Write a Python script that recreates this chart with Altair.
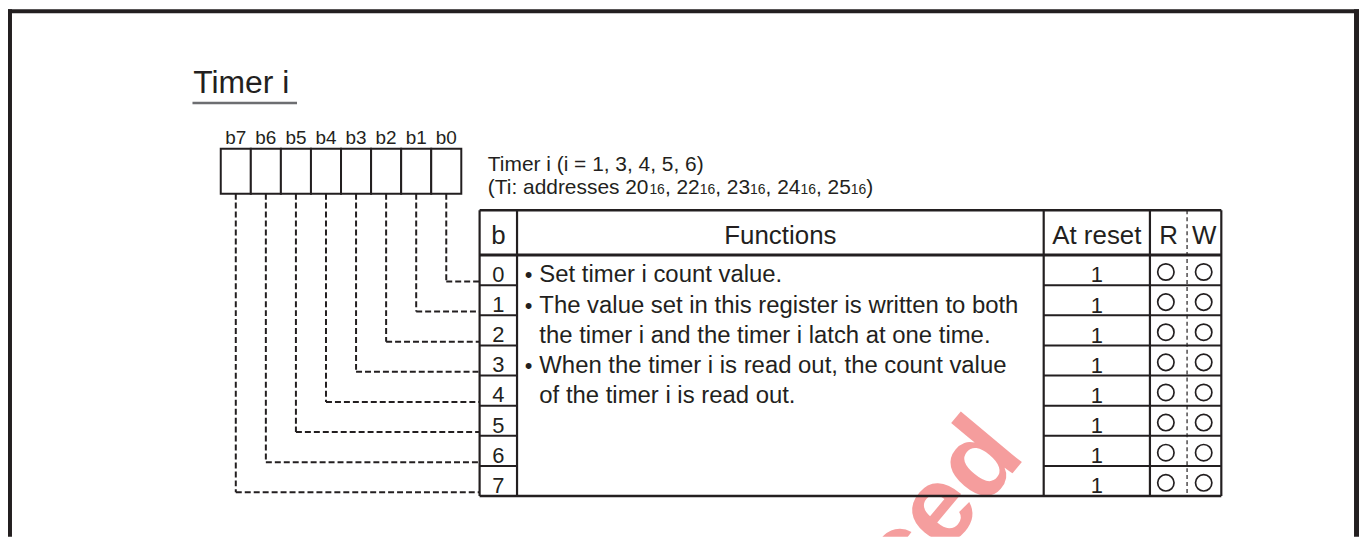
import altair as alt
import pandas as pd

# ---------------- chart content ----------------
TITLE = "Timer i"
BIT_LABELS = ["b7", "b6", "b5", "b4", "b3", "b2", "b1", "b0"]
CAPTION_1 = "Timer i (i = 1, 3, 4, 5, 6)"
CAPTION_2 = [("(Ti: addresses 20", "main"), ("16", "sub"), (", 22", "main"), ("16", "sub"),
             (", 23", "main"), ("16", "sub"), (", 24", "main"), ("16", "sub"),
             (", 25", "main"), ("16", "sub"), (")", "main")]
HEADERS = ["b", "Functions", "At reset", "R", "W"]
BITS = [0, 1, 2, 3, 4, 5, 6, 7]
AT_RESET = ["1", "1", "1", "1", "1", "1", "1", "1"]
READ_OK = [True, True, True, True, True, True, True, True]
WRITE_OK = [True, True, True, True, True, True, True, True]
FUNC_BULLETS = ["•", "•", "", "•", ""]
FUNC_LINES = ["Set timer i count value.",
              "The value set in this register is written to both",
              "the timer i and the timer i latch at one time.",
              "When the timer i is read out, the count value",
              "of the timer i is read out."]
WATERMARK = "ced"

# ---------------- layout (page pixels) ----------------
W, H = 1357, 530
X0, Y0 = 8, 8
INK = "#231f20"
FONT = "Liberation Sans"

reg_left, cell_w, reg_top, reg_bottom = 221.7, 30.2, 148.3, 193.3
tbl_top, head_bottom, row_h = 210.0, 255.0, 30.25
col_edges = [481.7, 519.3, 1048.3, 1155.0, 1226.7]
rw_split = 1192.3
tbl_bottom = head_bottom + 8 * row_h
r_x, w_x = 1171.0, 1209.0

AFM = {'(': 333, ')': 333, 'T': 611, 'i': 222, ':': 278, ' ': 278, 'a': 556, 'd': 556,
       'r': 333, 'e': 556, 's': 500, ',': 278}
for dgt in "0123456789":
    AFM[dgt] = 556


def text_w(s, size):
    return sum(AFM.get(c, 556) for c in s) * size / 1000.0


XSCALE = alt.Scale(domain=[X0, X0 + W], nice=False, zero=False)
YSCALE = alt.Scale(domain=[Y0, Y0 + H], nice=False, zero=False, reverse=True)


def xs(f):
    return alt.X(f, type="quantitative", scale=XSCALE, axis=None)


def ys(f):
    return alt.Y(f, type="quantitative", scale=YSCALE, axis=None)


def hrules(rows, **kw):
    df = pd.DataFrame(rows, columns=["x", "x2", "y"])
    return alt.Chart(df).mark_rule(color=INK, **kw).encode(x=xs("x"), x2=alt.X2("x2"), y=ys("y"))


def vrules(rows, **kw):
    df = pd.DataFrame(rows, columns=["x", "y", "y2"])
    return alt.Chart(df).mark_rule(color=INK, **kw).encode(x=xs("x"), y=ys("y"), y2=alt.Y2("y2"))


def texts(rows, **kw):
    df = pd.DataFrame(rows, columns=["x", "y", "t"])
    base = dict(font=FONT, color=INK, baseline="alphabetic")
    base.update(kw)
    return alt.Chart(df).mark_text(**base).encode(x=xs("x"), y=ys("y"), text="t:N")


layers = []

# watermark (behind everything)
wm = pd.DataFrame({"x": [970.0], "y": [530.0], "t": [WATERMARK]})
layers.append(alt.Chart(wm).mark_text(font=FONT, fontWeight="bold", fontSize=110, angle=310,
                                      align="center", baseline="alphabetic", color="#f06a6a",
                                      opacity=0.65, clip=True)
              .encode(x=xs("x"), y=ys("y"), text="t:N"))

# outer frame
layers.append(hrules([(X0, X0 + W, 10.0)], strokeWidth=4))
layers.append(vrules([(10.0, X0, Y0 + H)], strokeWidth=4))
layers.append(vrules([(1362.5, X0, Y0 + H)], strokeWidth=5))

# title + underline
layers.append(texts([(194.0, 91.7, TITLE)], fontSize=32, align="left"))
layers.append(alt.Chart(pd.DataFrame({"x": [193.3], "x2": [298.3], "y": [102.3]}))
              .mark_rule(color="#6d6e71", strokeWidth=2.5)
              .encode(x=xs("x"), x2=alt.X2("x2"), y=ys("y")))

# register cells and bit labels
cells = pd.DataFrame({
    "x": [reg_left + k * cell_w for k in range(8)],
    "x2": [reg_left + (k + 1) * cell_w for k in range(8)],
    "y": [reg_top] * 8, "y2": [reg_bottom] * 8})
layers.append(alt.Chart(cells).mark_rect(fill="white", stroke=INK, strokeWidth=2)
              .encode(x=xs("x"), x2=alt.X2("x2"), y=ys("y"), y2=alt.Y2("y2")))
layers.append(texts([(reg_left + (k + 0.5) * cell_w, 143.5, lab) for k, lab in enumerate(BIT_LABELS)],
                    fontSize=19, align="center"))

# caption
layers.append(texts([(490.0, 170.5, CAPTION_1)], fontSize=21, align="left"))
main_rows, sub_rows = [], []
cx = 490.0
for seg, kind in CAPTION_2:
    if kind == "main":
        main_rows.append((cx, 194.0, seg))
        cx += text_w(seg, 21)
    else:
        sub_rows.append((cx, 194.0, seg))
        cx += text_w(seg, 14)
layers.append(texts(main_rows, fontSize=21, align="left"))
layers.append(texts(sub_rows, fontSize=14, align="left"))


# dashed connectors
def cell_center(bit):
    return reg_left + (7 - bit + 0.5) * cell_w


def conn_y(bit):
    return head_bottom + bit * row_h + 26.5


layers.append(vrules([(cell_center(b), reg_bottom, conn_y(b)) for b in BITS],
                     strokeWidth=2, strokeDash=[6, 3]))
layers.append(hrules([(cell_center(b), col_edges[0], conn_y(b)) for b in BITS],
                     strokeWidth=2, strokeDash=[6, 3]))

# table frame
layers.append(hrules([(col_edges[0], col_edges[-1], tbl_top),
                      (col_edges[0], col_edges[-1], tbl_bottom)], strokeWidth=2.5))
layers.append(hrules([(col_edges[0], col_edges[-1], head_bottom)], strokeWidth=3))
layers.append(vrules([(x, tbl_top, tbl_bottom) for x in col_edges], strokeWidth=2.2))
row_lines = []
for k in range(1, 8):
    yk = head_bottom + k * row_h
    row_lines.append((col_edges[0], col_edges[1], yk))
    row_lines.append((col_edges[2], col_edges[4], yk))
layers.append(hrules(row_lines, strokeWidth=2))
layers.append(vrules([(rw_split, tbl_top, tbl_bottom)], strokeWidth=1.2, strokeDash=[4, 3]))

# headers
head_x = [(col_edges[0] + col_edges[1]) / 2, (col_edges[1] + col_edges[2]) / 2,
          (col_edges[2] + col_edges[3]) / 2, (col_edges[3] + rw_split) / 2,
          (rw_split + col_edges[4]) / 2]
layers.append(texts([(hx, 244.0, h) for hx, h in zip(head_x, HEADERS)], fontSize=26, align="center"))

# bit numbers and reset values
layers.append(texts([(head_x[0], head_bottom + b * row_h + 27.0, str(b)) for b in BITS],
                    fontSize=22, align="center"))
layers.append(texts([(head_x[2], head_bottom + b * row_h + 27.5, v) for b, v in zip(BITS, AT_RESET)],
                    fontSize=22, align="center"))

# function text
layers.append(texts([(527.0, head_bottom + i * row_h + 27.5, bl) for i, bl in enumerate(FUNC_BULLETS) if bl],
                    fontSize=22, align="left"))
layers.append(texts([(541.7, head_bottom + i * row_h + 27.5, ln) for i, ln in enumerate(FUNC_LINES)],
                    fontSize=24, align="left"))

# R / W circles
circ = pd.DataFrame(
    [(r_x, head_bottom + b * row_h + 17.0) for b, ok in zip(BITS, READ_OK) if ok] +
    [(w_x, head_bottom + b * row_h + 17.0) for b, ok in zip(BITS, WRITE_OK) if ok],
    columns=["x", "y"])
layers.append(alt.Chart(circ).mark_point(shape="circle", filled=False, size=270, strokeWidth=1.7,
                                         color=INK, opacity=1)
              .encode(x=xs("x"), y=ys("y")))

chart = alt.layer(*layers).properties(
    width=W, height=H, padding=0, autosize=alt.AutoSizeParams(type="none"), background="white"
).configure_view(stroke=None)

chart.save("out.html", embed_options={"renderer": "svg", "actions": False})
